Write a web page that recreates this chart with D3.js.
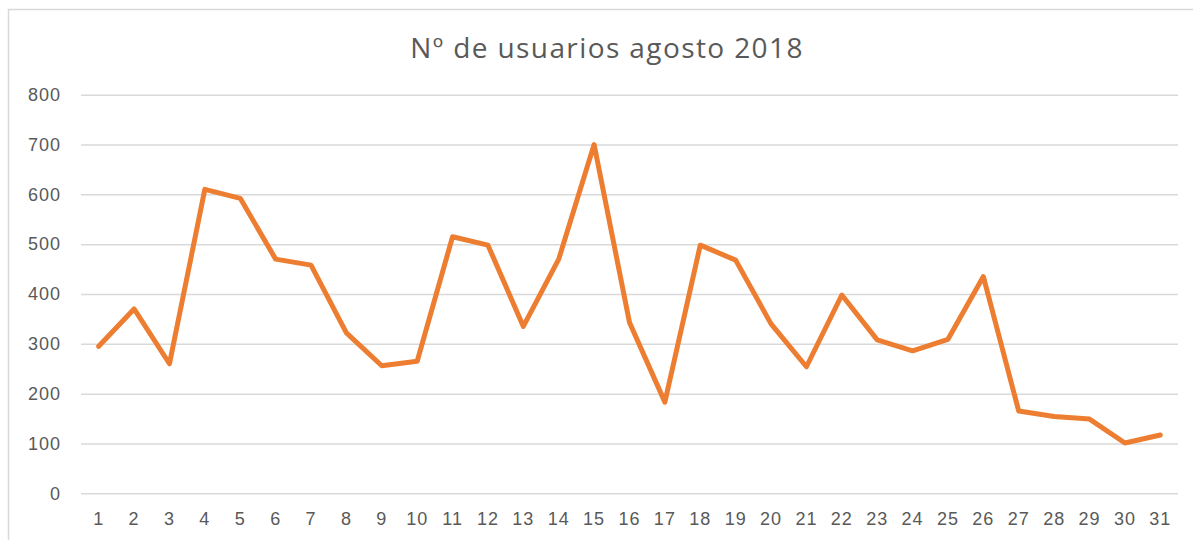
<!DOCTYPE html>
<html>
<head>
<meta charset="utf-8">
<script src="https://cdn.jsdelivr.net/npm/d3@7"></script>
<style>
  body { margin: 0; background: #fff; }
  svg { display: block; font-family: "Open Sans", sans-serif; }
</style>
</head>
<body>
<svg width="1193" height="540"></svg>
<script>
const days = d3.range(1, 32).map(String);
const users = [295, 370, 260, 610, 592, 470, 458, 322, 256, 265,
               515, 498, 335, 470, 700, 343, 183, 498, 468, 340,
               254, 398, 308, 286, 309, 435, 165, 154, 149, 101, 117];
const yTicks = [0, 100, 200, 300, 400, 500, 600, 700, 800];
const title = 'Nº de usuarios agosto 2018';

const svg = d3.select('svg');
const width  = +svg.attr('width');
const height = +svg.attr('height');

// chart frame: only top and left edges are inside the picture
svg.append('path')
  .attr('d', `M8.5,${height} V9.5 H${width}`)
  .attr('fill', 'none')
  .attr('stroke', '#d9d9d9')
  .attr('stroke-width', 1.5);

const margin = { top: 94.7, left: 81, right: 15, bottom: 46.7 };
const innerWidth = width - margin.left - margin.right;
const innerHeight = height - margin.top - margin.bottom;

const g = svg.append('g')
  .attr('transform', `translate(${margin.left},${margin.top})`);

const xScale = d3.scaleBand()
  .domain(days)
  .range([0, innerWidth]);

const yScale = d3.scaleLinear()
  .domain([0, 800])
  .range([innerHeight, 0]);

// horizontal gridlines + y labels
const yAxis = d3.axisLeft(yScale)
  .tickValues(yTicks)
  .tickSize(-innerWidth)
  .tickPadding(20);
const yAxisG = g.append('g').call(yAxis);
yAxisG.select('.domain').remove();
yAxisG.selectAll('.tick line')
  .attr('stroke', '#d9d9d9')
  .attr('stroke-width', 1.5);
yAxisG.selectAll('.tick text')
  .attr('fill', '#595959')
  .style('font-size', '18px')
  .style('letter-spacing', '1px');

// x labels
const xAxis = d3.axisBottom(xScale).tickSize(0).tickPadding(19);
const xAxisG = g.append('g')
  .attr('transform', `translate(0,${innerHeight})`)
  .call(xAxis);
xAxisG.select('.domain').remove();
xAxisG.selectAll('.tick text')
  .attr('fill', '#595959')
  .style('font-size', '18px')
  .style('letter-spacing', '1px');

// line
const line = d3.line()
  .x((d, i) => xScale(days[i]) + xScale.bandwidth() / 2)
  .y(d => yScale(d));

g.append('path')
  .datum(users)
  .attr('d', line)
  .attr('fill', 'none')
  .attr('stroke', '#ed7d31')
  .attr('stroke-width', 5)
  .attr('stroke-linejoin', 'round')
  .attr('stroke-linecap', 'round');

svg.append('text')
  .attr('x', 607)
  .attr('y', 58)
  .attr('text-anchor', 'middle')
  .attr('fill', '#595959')
  .style('font-size', '28px')
  .style('letter-spacing', '1.4px')
  .text(title);
</script>
</body>
</html>
